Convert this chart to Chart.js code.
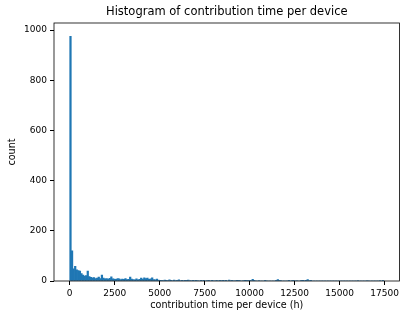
<!DOCTYPE html>
<html>
<head>
<meta charset="utf-8">
<script src="https://cdn.jsdelivr.net/npm/chart.js@4/dist/chart.umd.min.js"></script>
<style>
  body { margin: 0; background: #fff; }
</style>
</head>
<body>
<canvas id="hist" width="402" height="311"></canvas>
<script>
// histogram bins: start, width, counts per bin (200 bins)
const binStart = 0;
const binWidth = 87.3;
const counts = [
  975,120,48,58,45,42,40,30,24,20,
  22,40,18,15,13,14,10,12,16,10,
  24,12,9,10,8,11,17,9,8,7,
  10,9,6,8,7,10,6,7,16,8,
  6,5,9,5,7,12,8,13,10,12,
  7,9,13,6,5,8,4,3,3,2,
  4,3,2,5,3,2,4,2,3,5,
  2,3,2,1,3,4,2,2,1,2,
  3,2,0,1,2,1,0,2,1,0,
  1,2,0,1,0,1,2,3,2,1,
  0,4,2,1,0,2,1,3,2,0,
  2,1,3,2,1,2,7,1,0,0,
  2,0,0,0,1,0,0,0,0,0,
  0,1,6,3,2,0,0,0,0,1,
  0,2,1,0,2,0,0,1,3,2,
  3,6,2,1,0,0,0,0,0,0,
  0,0,0,0,0,0,0,0,0,0,
  0,0,0,0,0,0,0,0,0,0,
  0,0,0,2,0,0,0,0,0,2,
  0,0,0,0,0,0,0,2,0,3
];
const xTicks = [0,2500,5000,7500,10000,12500,15000,17500];
const yTicks = [0,200,400,600,800,1000];
const title = 'Histogram of contribution time per device';

const points = counts.map((c, i) => ({ x: binStart + (i + 0.5) * binWidth, y: c }));

const font = 'DejaVu Sans';

// matplotlib-style frame round the plot area, and title centred over it
const frame = {
  id: 'frame',
  afterDraw(chart) {
    const a = chart.chartArea, ctx = chart.ctx;
    ctx.save();
    ctx.strokeStyle = '#000';
    ctx.lineWidth = 0.8;
    ctx.strokeRect(a.left, a.top, a.right - a.left, a.bottom - a.top);
    ctx.fillStyle = '#000';
    ctx.font = '11.5px "DejaVu Sans"';
    ctx.textAlign = 'center';
    ctx.textBaseline = 'middle';
    ctx.fillText(title, (a.left + a.right) / 2, 12.5);
    ctx.restore();
  }
};

new Chart(document.getElementById('hist'), {
  type: 'bar',
  data: {
    datasets: [{
      data: points,
      backgroundColor: '#1f77b4',
      borderWidth: 0,
      barPercentage: 1,
      categoryPercentage: 1,
      grouped: false
    }]
  },
  options: {
    responsive: false,
    animation: false,
    devicePixelRatio: 1,
    layout: { padding: { left: 0, right: 2, top: 23, bottom: 0 } },
    plugins: {
      legend: { display: false },
      tooltip: { enabled: false }
    },
    scales: {
      x: {
        type: 'linear',
        min: -873,
        max: 18333,
        offset: false,
        afterBuildTicks: s => { s.ticks = xTicks.map(v => ({ value: v })); },
        afterFit: s => { s.height = 30; },
        grid: { offset: false, drawOnChartArea: false, drawTicks: true, tickLength: 4, color: '#000' },
        border: { display: false },
        ticks: {
          color: '#000',
          font: { family: font, size: 9 },
          padding: 3,
          maxRotation: 0,
          autoSkip: false,
          callback: v => String(v)
        },
        title: {
          display: true,
          text: 'contribution time per device (h)',
          color: '#000',
          font: { family: font, size: 9.6 },
          padding: { top: 0, bottom: 0 }
        }
      },
      y: {
        type: 'linear',
        min: 0,
        max: 1028,
        afterBuildTicks: s => { s.ticks = yTicks.map(v => ({ value: v })); },
        afterFit: s => { s.width = 54; },
        grid: { drawOnChartArea: false, drawTicks: true, tickLength: 4, color: '#000' },
        border: { display: false },
        ticks: {
          color: '#000',
          font: { family: font, size: 9 },
          padding: 3,
          autoSkip: false,
          callback: v => String(v)
        },
        title: {
          display: true,
          text: 'count',
          color: '#000',
          font: { family: font, size: 9.6 },
          padding: { top: 7, bottom: 0 }
        }
      }
    }
  },
  plugins: [frame]
});
</script>
</body>
</html>
